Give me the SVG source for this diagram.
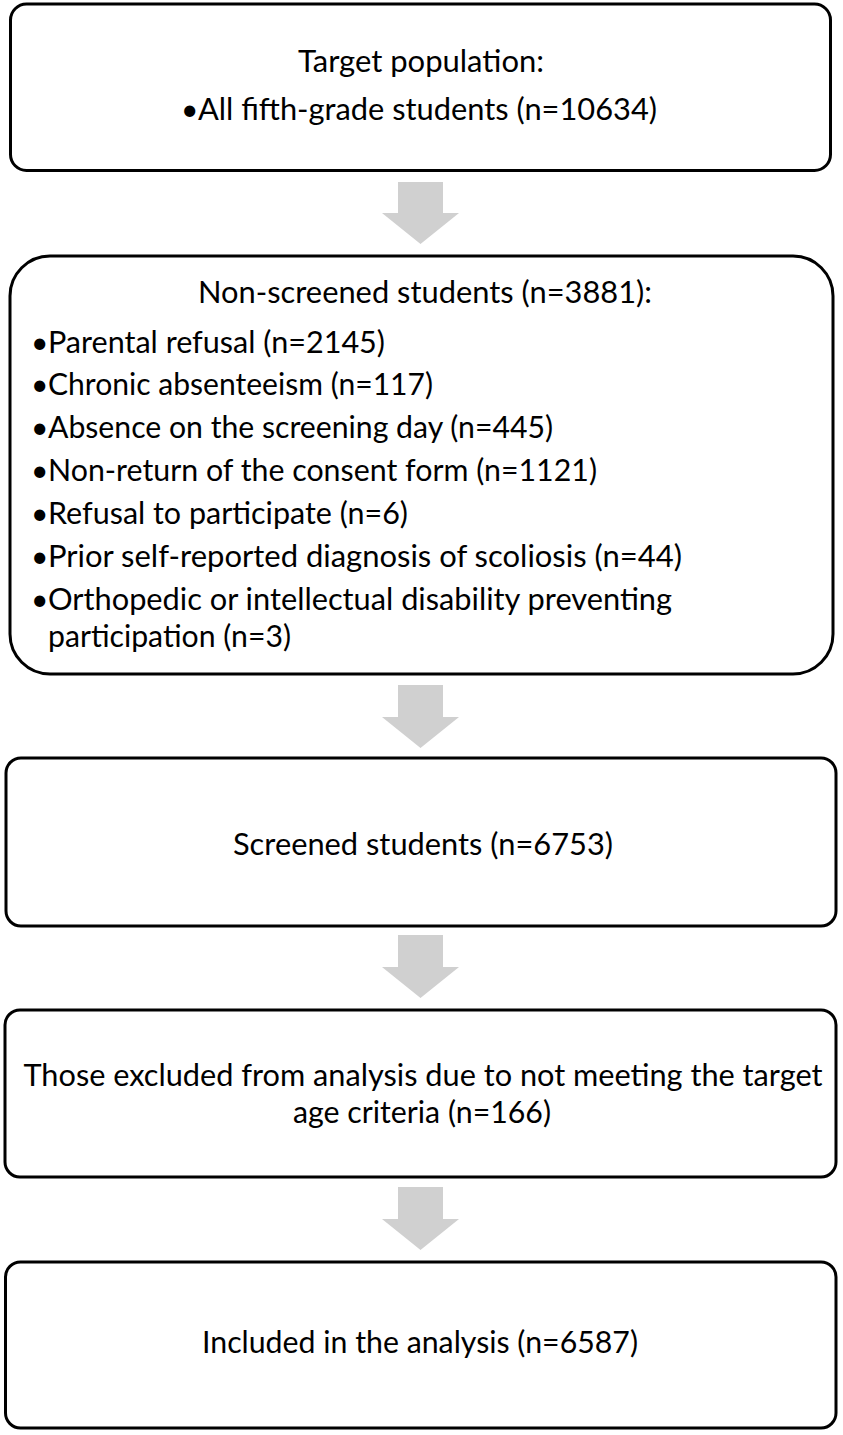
<svg xmlns="http://www.w3.org/2000/svg" width="843" height="1435" viewBox="0 0 843 1435">
<style>
.box{fill:#ffffff;stroke:#000000;stroke-width:3}
.arrow{fill:#d0d0d0;stroke:none}
.t{font-family:Lato,"Liberation Sans",sans-serif;font-size:30px;fill:#000000}
.c{text-anchor:middle}
</style>
<rect x="0" y="0" width="843" height="1435" fill="#ffffff"/>
<g id="connectors">
<path class="arrow" d="M398,182 H443 V213 H459 L420.5,244 L382,213 H398 Z"/>
<path class="arrow" d="M398,685 H443 V717 H459 L420.5,748 L382,717 H398 Z"/>
<path class="arrow" d="M398,935 H443 V967 H459 L420.5,998 L382,967 H398 Z"/>
<path class="arrow" d="M398,1187 H443 V1219 H459 L420.5,1250 L382,1219 H398 Z"/>
</g>
<g id="node-target">
<rect class="box" x="10.5" y="4" width="820" height="166.5" rx="16"/>
<text class="t c" x="421" y="72" textLength="246" lengthAdjust="spacingAndGlyphs">Target population:</text>
<text class="t" y="120"><tspan x="181">•</tspan><tspan x="198" textLength="459" lengthAdjust="spacingAndGlyphs">All fifth-grade students (n=10634)</tspan></text>
</g>
<g id="node-nonscreened">
<rect class="box" x="10" y="256" width="823" height="418" rx="40"/>
<text class="t c" x="425" y="303" textLength="454" lengthAdjust="spacingAndGlyphs">Non-screened students (n=3881):</text>
<text class="t" y="353"><tspan x="31">•</tspan><tspan x="48" textLength="337" lengthAdjust="spacingAndGlyphs">Parental refusal (n=2145)</tspan></text>
<text class="t" y="395"><tspan x="31">•</tspan><tspan x="48" textLength="385" lengthAdjust="spacingAndGlyphs">Chronic absenteeism (n=117)</tspan></text>
<text class="t" y="438"><tspan x="31">•</tspan><tspan x="48" textLength="505" lengthAdjust="spacingAndGlyphs">Absence on the screening day (n=445)</tspan></text>
<text class="t" y="481"><tspan x="31">•</tspan><tspan x="48" textLength="549" lengthAdjust="spacingAndGlyphs">Non-return of the consent form (n=1121)</tspan></text>
<text class="t" y="524"><tspan x="31">•</tspan><tspan x="48" textLength="360" lengthAdjust="spacingAndGlyphs">Refusal to participate (n=6)</tspan></text>
<text class="t" y="567"><tspan x="31">•</tspan><tspan x="48" textLength="634" lengthAdjust="spacingAndGlyphs">Prior self-reported diagnosis of scoliosis (n=44)</tspan></text>
<text class="t" y="610"><tspan x="31">•</tspan><tspan x="48" textLength="624" lengthAdjust="spacingAndGlyphs">Orthopedic or intellectual disability preventing</tspan></text>
<text class="t" x="48" y="647" textLength="243" lengthAdjust="spacingAndGlyphs">participation (n=3)</text>
</g>
<g id="node-screened">
<rect class="box" x="6" y="758" width="830" height="168" rx="15"/>
<text class="t c" x="423" y="855" textLength="380" lengthAdjust="spacingAndGlyphs">Screened students (n=6753)</text>
</g>
<g id="node-excluded">
<rect class="box" x="5" y="1010" width="831" height="167" rx="15"/>
<text class="t c" x="423" y="1086" textLength="799" lengthAdjust="spacingAndGlyphs">Those excluded from analysis due to not meeting the target</text>
<text class="t c" x="422" y="1123" textLength="258" lengthAdjust="spacingAndGlyphs">age criteria (n=166)</text>
</g>
<g id="node-included">
<rect class="box" x="5.5" y="1262" width="830.5" height="166" rx="15"/>
<text class="t c" x="420" y="1353" textLength="436" lengthAdjust="spacingAndGlyphs">Included in the analysis (n=6587)</text>
</g>
</svg>
